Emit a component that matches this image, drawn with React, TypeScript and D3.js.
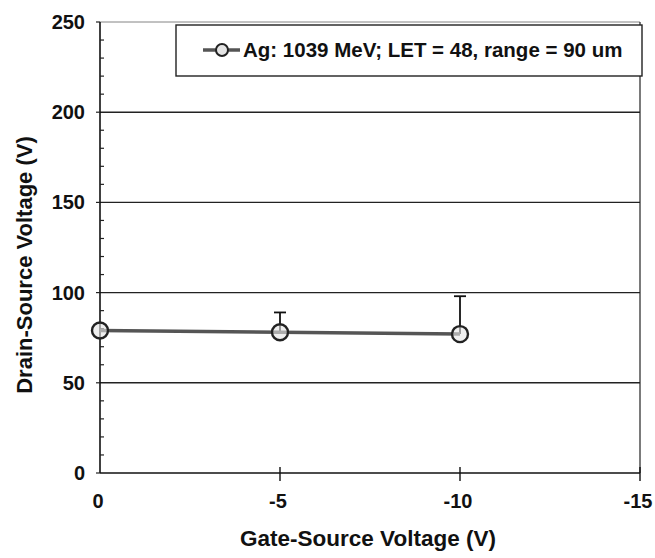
import * as d3 from "d3"

// data
const gateVoltage = [0, -5, -10]
const drainVoltage = [79, 78, 77]
const upperError = [0, 11, 21]
const yTicks = [0, 50, 100, 150, 200, 250]
const xTicks = [0, -5, -10, -15]
const seriesLabel = "Ag: 1039 MeV; LET = 48, range = 90 um"

const W = 655
const H = 558
const M = { left: 100, right: 15, top: 22, bottom: 85 }
const FONT = "'Liberation Sans', Arial, sans-serif"

export default function App() {
  const x = d3.scaleLinear().domain([0, -15]).range([M.left, W - M.right])
  const y = d3.scaleLinear().domain([0, 250]).range([H - M.bottom, M.top])
  const minor = d3.range(0, 251, 10).filter((v) => v % 50 !== 0)

  const line = d3
    .line<number>()
    .x((_, i) => x(gateVoltage[i]))
    .y((d) => y(d))

  const x0 = x(0)
  const x1 = x(-15)
  const y0 = y(0)
  const yTop = y(250)

  return (
    <svg
      width={W}
      height={H}
      style={{ position: "absolute", left: 0, top: 0, background: "#fff" }}
      fontFamily={FONT}
    >
      {/* grid */}
      {yTicks.slice(1).map((t) => (
        <line key={t} x1={x0} x2={x1} y1={y(t)} y2={y(t)} stroke="#222" strokeWidth={t === 250 ? 1 : 1.4} opacity={t === 250 ? 0.55 : 1} />
      ))}
      <line x1={x1} x2={x1} y1={yTop} y2={y0} stroke="#222" strokeWidth={1.2} />

      {/* axes */}
      <line x1={x0} x2={x0} y1={yTop} y2={y0} stroke="#111" strokeWidth={1.6} />
      <line x1={x0} x2={x1} y1={y0} y2={y0} stroke="#111" strokeWidth={1.6} />
      {minor.map((t) => (
        <line key={t} x1={x0} x2={x0 + 4} y1={y(t)} y2={y(t)} stroke="#222" strokeWidth={1.2} />
      ))}
      {yTicks.map((t) => (
        <line key={t} x1={x0 - 4} x2={x0} y1={y(t)} y2={y(t)} stroke="#222" strokeWidth={1.2} />
      ))}
      {xTicks.slice(1).map((t) => (
        <line key={t} x1={x(t)} x2={x(t)} y1={y0 - 6} y2={y0 + 8} stroke="#111" strokeWidth={1.4} />
      ))}

      {yTicks.map((t) => (
        <text key={t} x={85} y={y(t)} dy="0.35em" textAnchor="end" fontSize={20} fontWeight="bold" fill="#111">
          {t}
        </text>
      ))}
      {xTicks.map((t) => (
        <text key={t} x={x(t) - 2} y={y0 + 35} textAnchor="middle" fontSize={20} fontWeight="bold" fill="#111">
          {t}
        </text>
      ))}

      <text
        transform={`translate(32, 265) rotate(-90)`}
        textAnchor="middle"
        fontSize={22}
        fontWeight="bold"
        fill="#111"
      >
        Drain-Source Voltage (V)
      </text>
      <text x={368} y={546} textAnchor="middle" fontSize={22.5} fontWeight="bold" fill="#111">
        Gate-Source Voltage (V)
      </text>

      {/* error bars (upper only) */}
      {gateVoltage.map((g, i) =>
        upperError[i] > 0 ? (
          <g key={g} stroke="#111" strokeWidth={1.8}>
            <line x1={x(g)} x2={x(g)} y1={y(drainVoltage[i])} y2={y(drainVoltage[i] + upperError[i])} />
            <line x1={x(g) - 6} x2={x(g) + 6} y1={y(drainVoltage[i] + upperError[i])} y2={y(drainVoltage[i] + upperError[i])} />
          </g>
        ) : null
      )}

      <path d={line(drainVoltage) ?? ""} fill="none" stroke="#555" strokeWidth={3.5} />
      {gateVoltage.map((g, i) => (
        <circle key={g} cx={x(g)} cy={y(drainVoltage[i])} r={8} fill="#e4e4e4" fillOpacity={0.6} stroke="#222" strokeWidth={2.4} />
      ))}

      {/* legend */}
      <rect x={176} y={25} width={466} height={51} fill="#fff" stroke="#222" strokeWidth={1.4} />
      <line x1={203} x2={240} y1={50} y2={50} stroke="#555" strokeWidth={3.5} />
      <circle cx={222} cy={50} r={6} fill="#e4e4e4" stroke="#222" strokeWidth={2} />
      <text x={243} y={50} dy="0.36em" fontSize={20.5} fontWeight="bold" fill="#111">
        {seriesLabel}
      </text>
    </svg>
  )
}
